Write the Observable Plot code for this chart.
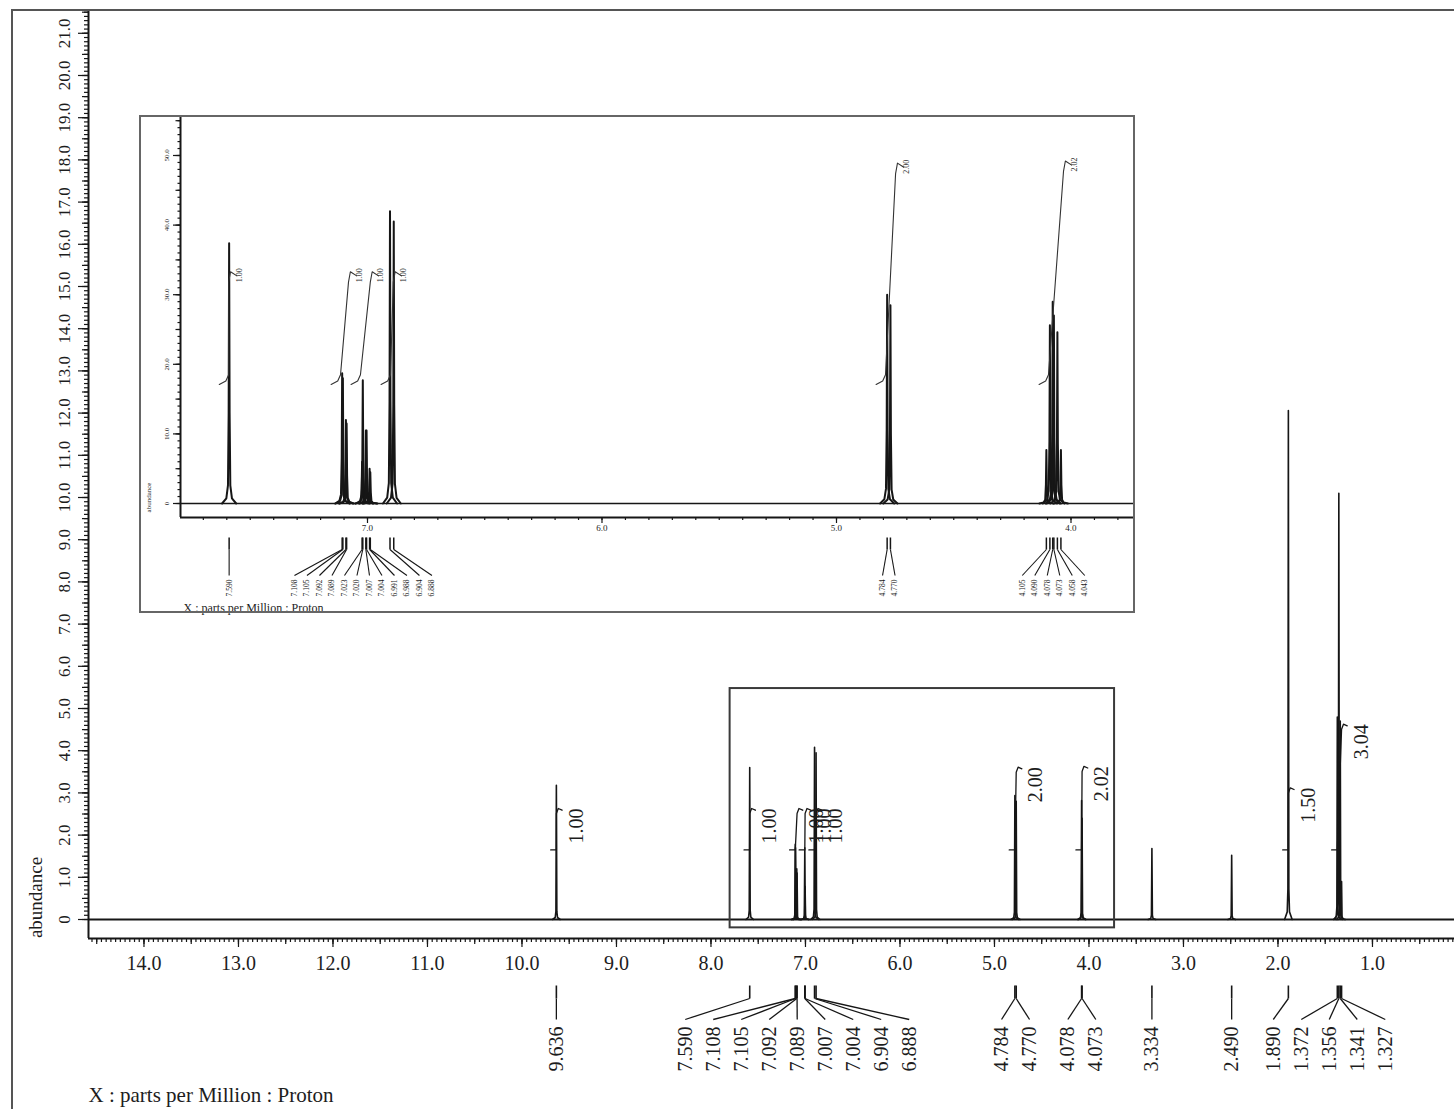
<!DOCTYPE html>
<html>
<head>
<meta charset="utf-8">
<script src="https://cdn.jsdelivr.net/npm/d3@7"></script>
<script src="https://cdn.jsdelivr.net/npm/@observablehq/plot@0.6"></script>
<style>
  html, body { margin: 0; padding: 0; background: #fff; overflow: hidden; }
  #page { position: relative; width: 1454px; height: 1109px; overflow: hidden; background: #fff; }
  #main { position: absolute; left: 0; top: 0; }
  #border { position: absolute; left: 11px; top: 9px; width: 3000px; height: 3000px;
            border-left: 2px solid #555; border-top: 2px solid #555; pointer-events: none; }
  #inset { position: absolute; left: 140px; top: 116px; background: #fff;
           outline: 2px solid #666; outline-offset: -1px; }
</style>
</head>
<body>
<div id="page">
  <div id="main"></div>
  <div id="border"></div>
  <div id="inset"></div>
</div>
<script>
// ---------- 1H NMR spectrum: line positions (ppm) and peak heights (abundance) ----------
const mainShift  = [9.636, 7.590, 7.108, 7.105, 7.092, 7.089, 7.007, 7.004, 6.904, 6.888,
                    4.784, 4.770, 4.078, 4.073, 3.334, 2.490, 1.890, 1.372, 1.356, 1.341, 1.327];
const mainHeight = [3.18, 3.60, 1.78, 1.70, 1.20, 1.10, 1.70, 0.78, 4.08, 3.95,
                    2.94, 2.80, 2.82, 2.40, 1.68, 1.52, 12.06, 4.80, 10.10, 4.70, 0.90];

// integrated groups: first line, last line, relative integral
const integralFrom  = [9.636, 7.590, 7.108, 7.007, 6.904, 4.784, 4.078, 1.890, 1.372];
const integralTo    = [9.636, 7.590, 7.089, 7.004, 6.888, 4.770, 4.073, 1.890, 1.327];
const integralValue = [1.00, 1.00, 1.00, 1.00, 1.00, 2.00, 2.02, 1.50, 3.04];

// expansion 7.8 – 3.7 ppm (its own abundance units)
const insetShift  = [7.590, 7.108, 7.105, 7.092, 7.089, 7.023, 7.020, 7.007, 7.004, 6.991, 6.988,
                     6.904, 6.888, 4.784, 4.770, 4.105, 4.090, 4.078, 4.073, 4.058, 4.043];
const insetHeight = [37.4, 18.7, 18.0, 12.0, 11.5, 6.0, 17.7, 10.5, 10.5, 5.0, 4.5,
                     42.0, 40.5, 30.0, 28.5, 7.7, 25.6, 29.0, 27.0, 24.6, 7.7];
const insetIntegralFrom  = [7.592, 7.115, 7.030, 6.902, 4.791, 4.096];
const insetIntegralTo    = [7.592, 7.081, 6.988, 6.890, 4.748, 4.032];
const insetIntegralValue = [1.00, 1.00, 1.00, 1.00, 2.00, 2.02];

// axis ticks
const mainXTicks  = d3.range(1, 15);      // 1.0 … 14.0 ppm
const mainYTicks  = d3.range(0, 22);      // 0 … 21.0
const insetXTicks = [4, 5, 6, 7];
const insetYTicks = [0, 10, 20, 30, 40, 50];

const xCaption = "X : parts per Million : Proton";

// ---------- styling / geometry ----------
const INK = "#161616", TXT = "#1d1d1d";
const FONT = "'Liberation Serif', 'Times New Roman', serif";

const main = { width: 1454, height: 1109, left: 88, top: 10, bottom: 171,
               x: [14.587, 0.132], y: [-0.45, 21.54], pxPerPpm: 94.5, pxPerUnit: 42.2 };
const inset = { width: 994, height: 496, left: 40, bottom: 95,
                x: [7.7974, 3.7292], y: [-2.011, 55.603], pxPerPpm: 234.5, pxPerUnit: 6.96 };
const insetGain = 10.16; // expansion abundance units per main abundance unit

const mLeft  = px => main.x[0] + px / main.pxPerPpm;     // px left of the y axis
const mBelow = px => main.y[0] - px / main.pxPerUnit;    // px below the x axis line
const iLeft  = px => inset.x[0] + px / inset.pxPerPpm;
const iBelow = px => inset.y[0] - px / inset.pxPerUnit;

// each resonance drawn as a narrow peak outline standing on the baseline
function outline(shifts, heights, dx, frac) {
  const pts = [];
  shifts.forEach((s, i) => {
    const h = heights[i];
    for (let k = 0; k < dx.length; k++) pts.push({ i, x: s + dx[k], y: frac[k] * h });
    for (let k = dx.length - 2; k >= 0; k--) pts.push({ i, x: s - dx[k], y: frac[k] * h });
  });
  return pts;
}

// integral traces: rise from a common base by value × height-per-proton
function integralCurves(from, to, value, base, perH, shape) {
  const pts = [], labels = [];
  from.forEach((f, i) => {
    const t = to[i], top = base + value[i] * perH;
    shape(f, t, base, top).forEach(([x, y]) => pts.push({ i, x, y }));
    labels.push({ x: t, top, text: value[i].toFixed(2) });
  });
  return { pts, labels };
}
const mainHook  = (f, t, b, top) => [[f + 0.06, b], [f, b], [t, top - 0.12], [t - 0.02, top], [t - 0.06, top - 0.04]];
const insetHook = (f, t, b, top) => [[f + 0.04, b - 0.6], [f + 0.012, b - 0.1], [f, b + 0.8],
                                     [t, top - 1.5], [t - 0.008, top], [t - 0.035, top - 0.6]];

// peak labels: keep neighbours at least `pitch` apart, each cluster centred on its lines
function spread(shifts, pitch) {
  const order = shifts.map((s, i) => i).sort((a, b) => shifts[b] - shifts[a]);
  const clusters = [];
  for (const i of order) {
    clusters.push({ members: [i], sum: -shifts[i] });
    while (clusters.length > 1) {
      const b = clusters[clusters.length - 1], a = clusters[clusters.length - 2];
      const ca = a.sum / a.members.length, cb = b.sum / b.members.length;
      const aRight = ca + (a.members.length - 1) * pitch / 2;
      const bLeft = cb - (b.members.length - 1) * pitch / 2;
      if (bLeft - aRight >= pitch) break;
      a.members.push(...b.members); a.sum += b.sum; clusters.pop();
    }
  }
  const pos = new Array(shifts.length);
  for (const c of clusters) {
    const n = c.members.length, center = c.sum / n;
    c.members.forEach((i, k) => { pos[i] = -(center - (n - 1) * pitch / 2 + k * pitch); });
  }
  return shifts.map((s, i) => ({ s, at: pos[i], text: s.toFixed(3) }));
}

function ticksX(values, y0, below, size) {
  return Plot.ruleX(values, { x: d => d, y1: () => y0, y2: () => below(size), stroke: INK, strokeWidth: 1.2 });
}
function ticksY(values, x0, left, size) {
  return Plot.ruleY(values, { y: d => d, x1: () => x0, x2: () => left(size), stroke: INK, strokeWidth: 1.2 });
}

// ---------- main spectrum ----------
const mainPeaks = outline(mainShift, mainHeight, [0.04, 0.012, 0.005, 0], [0, 0.015, 0.06, 1]);
const mainInt = integralCurves(integralFrom, integralTo, integralValue, 1.65, 0.98, mainHook);
const mainAnn = spread(mainShift, 28 / main.pxPerPpm);
const inRange = (v, d) => v <= Math.max(...d) && v >= Math.min(...d);
const mainMinorX = d3.range(3, 292).map(k => +(k * 0.05).toFixed(2)).filter(v => inRange(v, main.x));
const mainMidX = d3.range(1, 30).map(k => k * 0.5).filter(v => inRange(v, main.x));
const mainMinorY = d3.range(0, 216).map(k => +(k * 0.1).toFixed(1)).filter(v => v <= main.y[1]);
const mainMidY = d3.range(0, 44).map(k => k * 0.5).filter(v => v <= main.y[1]);
const windowRect = [{ x1: inset.x[0], x2: inset.x[1], y1: inset.y[0] / insetGain, y2: inset.y[1] / insetGain }];

const mainPlot = Plot.plot({
  width: main.width, height: main.height,
  marginLeft: main.left, marginRight: 0, marginTop: main.top, marginBottom: main.bottom,
  x: { domain: main.x, axis: null },
  y: { domain: main.y, axis: null },
  style: { fontFamily: FONT, color: TXT, background: "transparent", overflow: "visible" },
  marks: [
    Plot.ruleY([0], { stroke: INK, strokeWidth: 2 }),
    Plot.line(mainPeaks, { x: "x", y: "y", z: "i", stroke: INK, strokeWidth: 1.6 }),
    Plot.line(mainInt.pts, { x: "x", y: "y", z: "i", stroke: INK, strokeWidth: 1.3 }),
    Plot.text(mainInt.labels, { x: d => d.x - 0.21, y: "top", text: "text", rotate: -90,
      textAnchor: "end", fontSize: 20, fill: TXT }),
    Plot.rect(windowRect, { x1: "x1", x2: "x2", y1: "y1", y2: "y2", fill: "none", stroke: "#3a3a3a", strokeWidth: 2 }),
    // axes
    Plot.ruleX([main.x[0]], { stroke: INK, strokeWidth: 2 }),
    Plot.ruleY([main.y[0]], { stroke: INK, strokeWidth: 2 }),
    ticksX(mainMinorX, main.y[0], mBelow, 4),
    ticksX(mainMidX, main.y[0], mBelow, 6),
    ticksX(mainXTicks, main.y[0], mBelow, 9),
    Plot.text(mainXTicks, { x: d => d, y: () => mBelow(25), text: d => d.toFixed(1), fontSize: 20, fill: TXT }),
    ticksY(mainMinorY, main.x[0], mLeft, 4),
    ticksY(mainMidY, main.x[0], mLeft, 6),
    ticksY(mainYTicks, main.x[0], mLeft, 10),
    Plot.text(mainYTicks, { x: () => mLeft(24), y: d => d, text: d => d === 0 ? "0" : d.toFixed(1),
      rotate: -90, fontSize: 17, fill: TXT }),
    Plot.text(["abundance"], { x: () => mLeft(53), y: () => mBelow(-41), text: d => d, rotate: -90, fontSize: 19, fill: TXT }),
    // peak picking labels
    Plot.link(mainAnn, { x1: "s", x2: "s", y1: () => mBelow(47), y2: () => mBelow(60), stroke: INK, strokeWidth: 1.6 }),
    Plot.link(mainAnn, { x1: "s", y1: () => mBelow(60), x2: "at", y2: () => mBelow(81), stroke: INK, strokeWidth: 1.3 }),
    Plot.text(mainAnn, { x: "at", y: () => mBelow(88), text: "text", rotate: -90, textAnchor: "end", fontSize: 20, fill: TXT }),
    Plot.text([xCaption], { x: () => main.x[0], y: () => mBelow(157), text: d => d, textAnchor: "start", fontSize: 21, fill: TXT })
  ]
});
document.getElementById("main").append(mainPlot);

// ---------- expansion ----------
const insetPeaks = outline(insetShift, insetHeight, [0.03, 0.012, 0.005, 0.002, 0], [0, 0.02, 0.07, 0.35, 1]);
const insetInt = integralCurves(insetIntegralFrom, insetIntegralTo, insetIntegralValue, 17.7, 15.6, insetHook);
const insetAnn = spread(insetShift, 12.5 / inset.pxPerPpm);
const insetMinorX = d3.range(38, 78).map(k => +(k * 0.1).toFixed(1)).filter(v => inRange(v, inset.x));
const insetMinorY = d3.range(0, 56);
const insetMidY = d3.range(0, 56, 5);

const insetPlot = Plot.plot({
  width: inset.width, height: inset.height,
  marginLeft: inset.left, marginRight: 0, marginTop: 0, marginBottom: inset.bottom,
  x: { domain: inset.x, axis: null },
  y: { domain: inset.y, axis: null },
  style: { fontFamily: FONT, color: TXT, background: "transparent", overflow: "visible" },
  marks: [
    Plot.ruleY([0], { stroke: INK, strokeWidth: 1.6 }),
    Plot.line(insetPeaks, { x: "x", y: "y", z: "i", stroke: INK, strokeWidth: 2 }),
    Plot.line(insetInt.pts, { x: "x", y: "y", z: "i", stroke: "#333", strokeWidth: 1.1 }),
    Plot.text(insetInt.labels, { x: d => d.x - 0.045, y: d => d.top + 0.5, text: "text", rotate: -90,
      textAnchor: "end", fontSize: 8, fill: TXT }),
    Plot.ruleX([inset.x[0]], { stroke: INK, strokeWidth: 2 }),
    Plot.ruleY([inset.y[0]], { stroke: INK, strokeWidth: 2 }),
    ticksX(insetMinorX, inset.y[0], iBelow, 3),
    ticksX(insetXTicks, inset.y[0], iBelow, 6),
    Plot.text(insetXTicks, { x: d => d, y: () => iBelow(11), text: d => d.toFixed(1), fontSize: 9, fill: TXT }),
    ticksY(insetMinorY, inset.x[0], iLeft, 2.5),
    ticksY(insetMidY, inset.x[0], iLeft, 4.5),
    ticksY(insetYTicks, inset.x[0], iLeft, 7),
    Plot.text(insetYTicks, { x: () => iLeft(14), y: d => d, text: d => d === 0 ? "0" : d.toFixed(1),
      rotate: -90, fontSize: 7, fill: TXT }),
    Plot.text(["abundance"], { x: () => iLeft(32), y: () => iBelow(-20), text: d => d, rotate: -90, fontSize: 7, fill: TXT }),
    Plot.link(insetAnn, { x1: "s", x2: "s", y1: () => iBelow(20), y2: () => iBelow(32), stroke: INK, strokeWidth: 1.5 }),
    Plot.link(insetAnn, { x1: "s", y1: () => iBelow(32), x2: "at", y2: () => iBelow(58), stroke: INK, strokeWidth: 1.1 }),
    Plot.text(insetAnn, { x: "at", y: () => iBelow(62), text: "text", rotate: -90, textAnchor: "end", fontSize: 7.5, fill: TXT }),
    Plot.text([xCaption], { x: () => iLeft(-3), y: () => iBelow(91), text: d => d, textAnchor: "start", fontSize: 12, fill: TXT })
  ]
});
document.getElementById("inset").append(insetPlot);
</script>
</body>
</html>
